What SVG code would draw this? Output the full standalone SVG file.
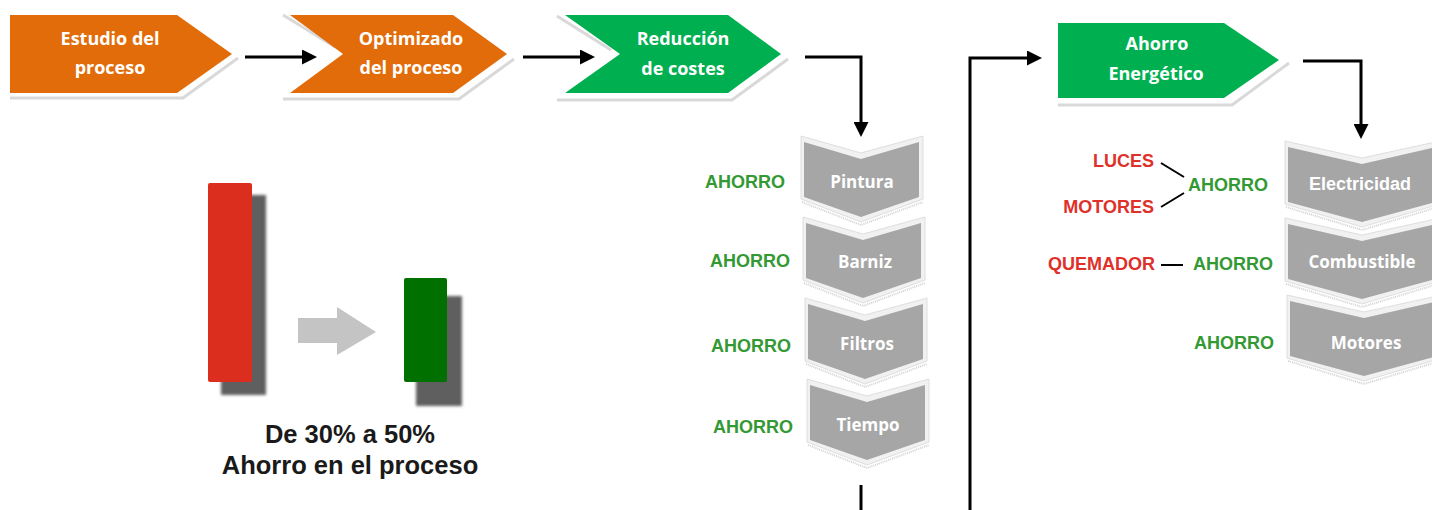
<svg xmlns="http://www.w3.org/2000/svg" width="1432" height="510" viewBox="0 0 1432 510">
<defs>
<style>
.ttl{font-family:"Open Sans","Liberation Sans",sans-serif;font-weight:700;font-size:18px;fill:#fff;text-anchor:middle}
.gl{font-family:"Open Sans","Liberation Sans",sans-serif;font-weight:700;font-size:17px;fill:#fff;text-anchor:middle}
.ah{font-family:"Liberation Sans",Arial,sans-serif;font-weight:700;font-size:18px;fill:#339933}
.rd{font-family:"Liberation Sans",Arial,sans-serif;font-weight:700;font-size:18px;fill:#e0302a;text-anchor:end}
.big{font-family:"Liberation Sans",Arial,sans-serif;font-weight:700;font-size:25.5px;fill:#1a1a1a;text-anchor:middle}
.sh{fill:none;stroke:#d9d9d9;stroke-width:3}
.con{fill:none;stroke:#000;stroke-width:3}
.thin{fill:none;stroke:#000;stroke-width:2}
.cbord{fill:#f1f1f1;stroke:#dedede;stroke-width:1}
.cgray{fill:#a6a6a6}
.cshad{fill:none;stroke:#d2d2d2;stroke-width:2;stroke-dasharray:1 1}
</style>
<marker id="ah" viewBox="0 0 15 15" refX="5" refY="7.5" markerWidth="15" markerHeight="15" markerUnits="userSpaceOnUse" orient="auto">
<path d="M0,0 L15,7.5 L0,15 Z" fill="#000"/>
</marker>
<filter id="blur" x="-20%" y="-20%" width="140%" height="140%"><feGaussianBlur stdDeviation="1.5"/></filter>
<symbol id="chevL" overflow="visible">
<polyline class="cshad" points="-2,60 57,83 119,60"/>
<polygon class="cbord" points="-3,-6 57,11 119,-6 119,57 57,80 -3,57"/>
<polygon class="cgray" points="0,0 57,17 115,0 115,55 57,75 0,55"/>
</symbol>
<symbol id="chevR" overflow="visible">
<polyline class="cshad" points="-2,60 74,83 150,60"/>
<polygon class="cbord" points="-3,-6 74,11 152,-6 152,57 74,80 -3,57"/>
<polygon class="cgray" points="0,0 74,17 148,0 148,55 74,75 0,55"/>
</symbol>
</defs>
<rect width="1432" height="510" fill="#fff"/>

<g id="estudio">
<polyline class="sh" points="10,98 183,98 238,58"/>
<polygon points="10,15 177,15 232,54 177,93 10,93" fill="#e36c0a"/>
<text class="ttl" x="110" y="45">Estudio del</text>
<text class="ttl" x="110" y="74">proceso</text>
</g>

<g id="optimizado">
<polyline class="sh" points="283,15 335,47"/>
<polyline class="sh" points="283,99 459,99 514,59"/>
<polygon points="290,15 453,15 507,54 453,93 290,93 343,54" fill="#e36c0a"/>
<text class="ttl" x="411" y="45">Optimizado</text>
<text class="ttl" x="411" y="74">del proceso</text>
</g>

<g id="reduccion">
<polyline class="sh" points="557,16 611,50"/>
<polyline class="sh" points="557,100 732,100 788,59"/>
<polygon points="565,15 728,15 781,54 728,93 565,93 620,54" fill="#00b050"/>
<text class="ttl" x="683" y="45">Reducción</text>
<text class="ttl" x="683" y="75">de costes</text>
</g>

<g id="ahorro-energetico">
<polyline class="sh" points="1058,105 1232,105 1289,63"/>
<polygon points="1058,23 1224,23 1279,60 1224,98 1058,98" fill="#00b050"/>
<text class="ttl" x="1157" y="50">Ahorro</text>
<text class="ttl" x="1156" y="80">Energético</text>
</g>

<g id="pintura">
<use href="#chevL" x="804" y="142"/>
<text class="gl" x="862" y="188">Pintura</text>
<text class="ah" x="705" y="188">AHORRO</text>
</g>
<g id="barniz">
<use href="#chevL" x="806" y="223"/>
<text class="gl" x="865" y="268">Barniz</text>
<text class="ah" x="710" y="267">AHORRO</text>
</g>
<g id="filtros">
<use href="#chevL" x="808" y="304"/>
<text class="gl" x="867" y="350">Filtros</text>
<text class="ah" x="711" y="352">AHORRO</text>
</g>
<g id="tiempo">
<use href="#chevL" x="810" y="385"/>
<text class="gl" x="868" y="431">Tiempo</text>
<text class="ah" x="713" y="433">AHORRO</text>
</g>

<g id="electricidad">
<use href="#chevR" x="1288" y="147"/>
<text class="gl" x="1360" y="190" style="font-family:'Liberation Sans',Arial,sans-serif;font-size:18px">Electricidad</text>
<text class="ah" x="1188" y="191">AHORRO</text>
<text class="rd" x="1154" y="167">LUCES</text>
<text class="rd" x="1154" y="213">MOTORES</text>
<line class="thin" x1="1161" y1="163" x2="1184" y2="177"/>
<line class="thin" x1="1161" y1="207" x2="1184" y2="193"/>
</g>
<g id="combustible">
<use href="#chevR" x="1288" y="224"/>
<text class="gl" x="1362" y="268">Combustible</text>
<text class="rd" x="1155" y="270">QUEMADOR</text>
<line class="thin" x1="1161" y1="265" x2="1183" y2="265"/>
<text class="ah" x="1193" y="270">AHORRO</text>
</g>
<g id="motores">
<use href="#chevR" x="1290" y="301"/>
<text class="gl" x="1366" y="349">Motores</text>
<text class="ah" x="1194" y="349">AHORRO</text>
</g>

<g id="comparacion">
<rect x="221" y="195" width="45" height="200" fill="#5f5f5f" filter="url(#blur)"/>
<rect x="208" y="183" width="44" height="199" rx="2" fill="#dc2e1e"/>
<polygon points="298,318 337,318 337,307 376,332 337,355 337,343 298,343" fill="#c4c4c4"/>
<rect x="416" y="296" width="46" height="110" fill="#5f5f5f" filter="url(#blur)"/>
<rect x="404" y="278" width="43" height="104" rx="2" fill="#007000"/>
<text class="big" x="350" y="443">De 30% a 50%</text>
<text class="big" x="350" y="474">Ahorro en el proceso</text>
</g>

<g id="connectors">
<path class="con" d="M245,57 H307" marker-end="url(#ah)"/>
<path class="con" d="M523,57 H585" marker-end="url(#ah)"/>
<path class="con" d="M805,57 H861 V127" marker-end="url(#ah)"/>
<path class="con" d="M970,510 V58 H1032" marker-end="url(#ah)"/>
<path class="con" d="M1303,61 H1361 V129" marker-end="url(#ah)"/>
<path class="con" d="M861,485 V510"/>
</g>
</svg>
